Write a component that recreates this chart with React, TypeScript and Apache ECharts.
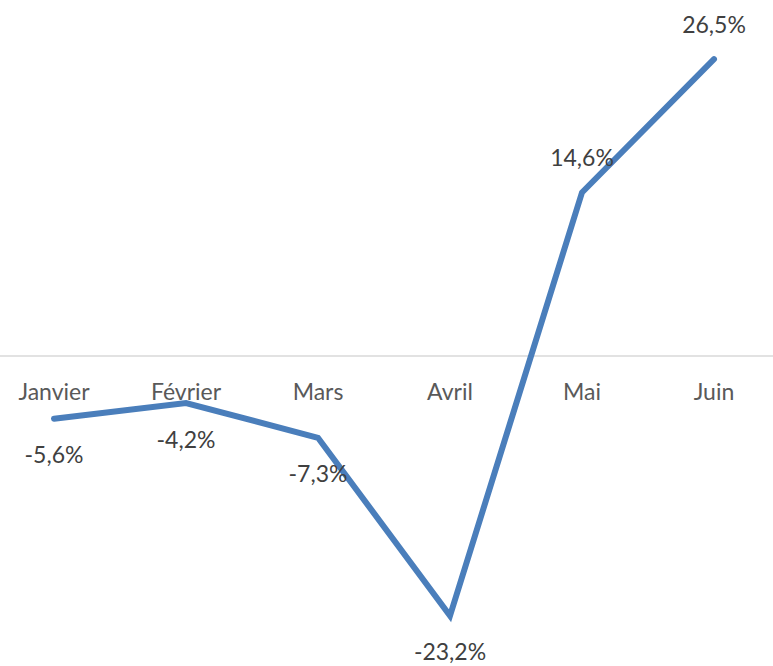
import React, { useEffect, useRef } from "react";
import * as echarts from "echarts";

const categories = ["Janvier", "Février", "Mars", "Avril", "Mai", "Juin"];
const values = [-5.6, -4.2, -7.3, -23.2, 14.6, 26.5];
const yMin = -25;
const yMax = 30;

export default function App() {
  const ref = useRef<HTMLDivElement>(null);
  useEffect(() => {
    if (!ref.current) return;
    const chart = echarts.init(ref.current, null, { renderer: "svg" });
    const font = "Lato, 'Open Sans', sans-serif";
    const top = 20;
    const bottom = 30;
    const plotH = 666 - top - bottom;
    const zeroOffset = -(plotH * (0 - yMin)) / (yMax - yMin);
    chart.setOption({
      animation: false,
      grid: {
        left: -12,
        right: -7,
        top,
        bottom,
        containLabel: false,
        outerBoundsMode: "none",
      },
      xAxis: {
        type: "category",
        data: categories,
        boundaryGap: true,
        position: "bottom",
        offset: zeroOffset,
        axisLine: { onZero: false, lineStyle: { color: "#d9d9d9", width: 1.5 } },
        axisTick: { show: false },
        axisLabel: { color: "#595959", fontSize: 23, fontFamily: font, margin: 23 },
      },
      yAxis: {
        type: "value",
        min: yMin,
        max: yMax,
        axisLine: { show: false },
        axisTick: { show: false },
        axisLabel: { show: false },
        splitLine: { show: false },
      },
      series: [
        {
          type: "line",
          data: values.map((v) => ({
            value: v,
            label: { show: true, position: v < 0 ? "bottom" : "top" },
          })),
          symbol: "circle",
          symbolSize: 0.1,
          showSymbol: true,
          itemStyle: { color: "#4a7ebb" },
          lineStyle: { color: "#4a7ebb", width: 6, cap: "round", join: "miter" },
          label: {
            show: true,
            distance: 24,
            color: "#404040",
            fontSize: 23,
            fontFamily: font,
            formatter: (p: any) => p.value.toFixed(1).replace(".", ",") + "%",
          },
        },
      ],
    });
    return () => chart.dispose();
  }, []);
  return (
    <div
      ref={ref}
      style={{ position: "absolute", left: 0, top: 0, width: 773, height: 666, background: "#fff" }}
    />
  );
}
